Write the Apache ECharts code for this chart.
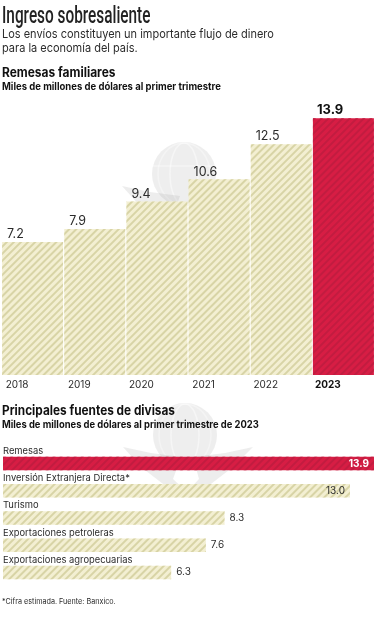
<!DOCTYPE html>
<html><head><meta charset="utf-8">
<style>html,body{margin:0;padding:0;background:#fff}#c{width:376px;height:620px}</style>
<script src="https://cdn.jsdelivr.net/npm/echarts@6/dist/echarts.min.js"></script>
</head><body><div id="c"></div>
<script>
const years = ['2018','2019','2020','2021','2022','2023'];
const remesas = [7.2,7.9,9.4,10.6,12.5,13.9];
const fuentes = ['Remesas','Inversión Extranjera Directa*','Turismo','Exportaciones petroleras','Exportaciones agropecuarias'];
const fuentesValores = [13.9,13.0,8.3,7.6,6.3];
const body = 'Inter, "Noto Sans", sans-serif';
const ink = '#2b2b2b';
const beige = '#f3efd2', beigeStripe = '#d8d4a6', red = '#d71d44', redStripe = '#c21c40';
const deco = c => ({symbol:'rect',color:c,dashArrayX:[1,0],dashArrayY:[1.8,2.6],rotation:-Math.PI/4,symbolSize:1});
const beigeStyle = {color:beige,decal:deco(beigeStripe)};
const redStyle = {color:red,decal:deco(redStripe)};
const txt = (x,y,text,font,sx,extra) => ({type:'text',x,y,scaleX:sx,z:10,style:Object.assign({text,font,fill:ink,textVerticalAlign:'top'},extra||{})});
const g = a => 'rgba(140,140,140,'+a+')';
const wm = (dx,dy) => ({type:'group',x:dx,y:dy,z:5,silent:true,children:[
  {type:'circle',shape:{cx:184,cy:174,r:32},style:{fill:g(0.15)}},
  {type:'ellipse',shape:{cx:184,cy:174,rx:14,ry:31},style:{stroke:'rgba(255,255,255,0.45)',lineWidth:1.5,fill:null}},
  {type:'ellipse',shape:{cx:184,cy:174,rx:26,ry:31},style:{stroke:'rgba(255,255,255,0.35)',lineWidth:1.5,fill:null}},
  {type:'line',shape:{x1:153,y1:166,x2:215,y2:166},style:{stroke:'rgba(255,255,255,0.4)',lineWidth:1.5}},
  {type:'polygon',shape:{points:[[122,186],[150,192],[180,196],[172,218],[186,231],[166,226],[140,206]]},style:{fill:g(0.16)}},
  {type:'polygon',shape:{points:[[252,186],[224,192],[192,196],[198,218],[186,231],[206,226],[232,206]]},style:{fill:g(0.16)}}
]});
const chart = echarts.init(document.getElementById('c'),null,{renderer:'canvas'});
chart.setOption({
  animation:false,
  aria:{enabled:true,decal:{show:true}},
  graphic:[
    txt(2,5,'Ingreso sobresaliente','500 24px Roboto,sans-serif',0.64,{fill:'#222'}),
    txt(2,28,'Los envíos constituyen un importante flujo de dinero','12px '+body,0.915),
    txt(2,42,'para la economía del país.','12px '+body,0.915),
    txt(2,67,'Remesas familiares','bold 13px '+body,0.92,{fill:'#111'}),
    txt(2,82,'Miles de millones de dólares al primer trimestre','bold 10px '+body,0.95,{fill:'#111'}),
    txt(2,405,'Principales fuentes de divisas','bold 13px '+body,0.91,{fill:'#111'}),
    txt(2,420,'Miles de millones de dólares al primer trimestre de 2023','bold 10px '+body,0.94,{fill:'#111'}),
    txt(2,598,'*Cifra estimada. Fuente: Banxico.','7.6px '+body,0.95),
    wm(0,0), wm(1,261)
  ],
  grid:[
    {left:1.5,top:118.3,width:373,height:256.7},
    {left:2,top:450,width:372,height:136}
  ],
  xAxis:[
    {gridIndex:0,type:'category',data:years,axisLine:{show:false},axisTick:{show:false},
     axisLabel:{margin:5,color:ink,fontFamily:body,fontSize:10,padding:[0,31,0,0],
       formatter:v=>v==='2023'?'{b|'+v+'}':v,rich:{b:{fontWeight:'bold',fontSize:10,fontFamily:body,color:'#111'}}}},
    {gridIndex:1,type:'value',min:0,max:13.9,show:false}
  ],
  yAxis:[
    {gridIndex:0,type:'value',min:0,max:13.9,show:false},
    {gridIndex:1,type:'category',inverse:true,data:fuentes,axisLine:{show:false},axisTick:{show:false},
     axisLabel:{inside:true,margin:0,color:ink,fontFamily:body,fontSize:9.4,align:'left',verticalAlign:'bottom',padding:[0,0,8,0]}}
  ],
  series:[
    {type:'bar',xAxisIndex:0,yAxisIndex:0,barWidth:61,
     data:remesas.map((v,i)=>({value:v,itemStyle:i===5?redStyle:beigeStyle,
       label:i===5?{fontWeight:'bold',fontSize:13,color:'#111',position:[4,-2]}:{}})),
     label:{show:true,position:[5,-1],verticalAlign:'bottom',align:'left',fontFamily:body,fontSize:12.5,color:ink,formatter:p=>p.value.toFixed(1)}},
    {type:'bar',xAxisIndex:1,yAxisIndex:1,barWidth:13.5,
     data:fuentesValores.map((v,i)=>({value:v,itemStyle:i===0?redStyle:beigeStyle,
       label:i===0?{position:'insideRight',color:'#fff',fontWeight:'bold',distance:5}:
             i===1?{position:'insideRight',distance:5}:{position:'right',distance:5}})),
     label:{show:true,fontFamily:body,fontSize:10,color:ink,formatter:p=>p.value.toFixed(1)}}
  ]
});
</script></body></html>
